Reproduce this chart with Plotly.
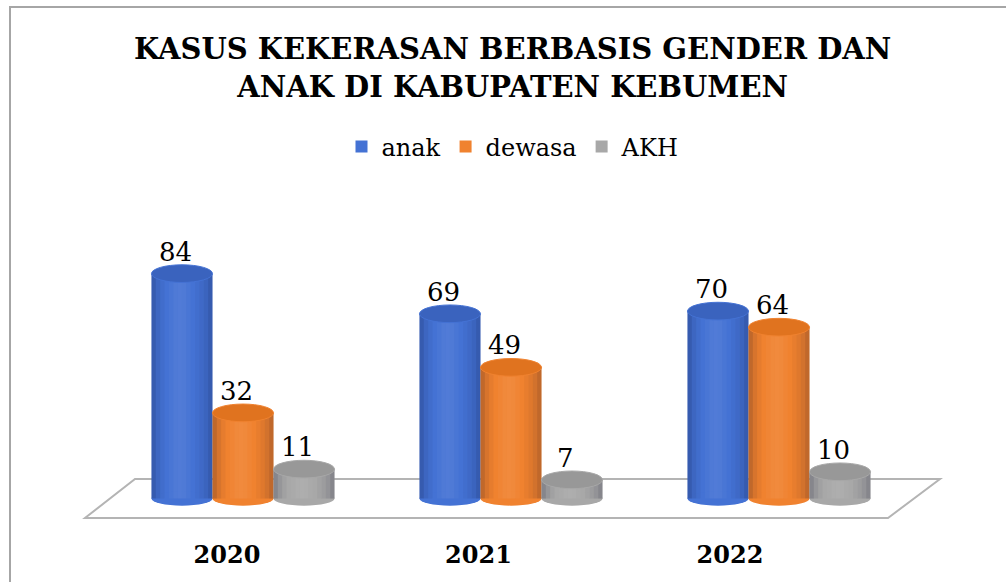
import plotly.graph_objects as go

# ---- data ----
years = ["2020", "2021", "2022"]
series_names = ["anak", "dewasa", "AKH"]
anak = [84, 69, 70]
dewasa = [32, 49, 64]
akh = [11, 7, 10]
colors = ["#4472D4", "#F0822F", "#A8A8A8"]
top_colors = ["#3A63BE", "#E0731F", "#989898"]

W, H = 1006, 582
L, R, T, B = 109, 93, 204, 62
PW, PH = W - L - R, H - T - B
YMIN, YMAX = -8, 110
BARGAP = 0.317

def px2paper(px, py):
    return (px - L) / PW, (H - B - py) / PH

fig = go.Figure()
values = [anak, dewasa, akh]
for name, vals, col in zip(series_names, values, colors):
    fig.add_trace(go.Bar(x=years, y=vals, name=name, marker=dict(color=col, line=dict(width=0)),
                         hoverinfo="x+y+name"))

# invisible trace for label axis
fig.add_trace(go.Scatter(x=[0, 1, 2], y=[0, 0, 0], xaxis="x2", mode="markers",
                         marker=dict(opacity=0), showlegend=False, hoverinfo="skip"))

bw = (1 - BARGAP) / 3
ell_h = 3.3  # half-height of ellipse in data units
# cylinder shading profile (positive = white overlay, negative = dark overlay)
shade = [-0.20, -0.10, -0.04, 0.0, 0.03, 0.06, 0.07, 0.06, 0.03, 0.0, -0.03, -0.07, -0.12, -0.20]
ns = len(shade)
shapes = []
annotations = []
# floor
fl = [px2paper(135, 479), px2paper(940, 479), px2paper(888, 518), px2paper(85, 518)]
path = "M {} {} L {} {} L {} {} L {} {} Z".format(*[c for p in fl for c in p])
shapes.append(dict(type="path", xref="paper", yref="paper", path=path, fillcolor="white",
                   line=dict(color="#B4B4B4", width=2), layer="below"))
for s, (vals, col, tcol) in enumerate(zip(values, colors, top_colors)):
    for i, v in enumerate(vals):
        cx = i + (s - 1) * bw
        x0 = cx - bw / 2
        # bottom ellipse
        shapes.append(dict(type="circle", xref="x", yref="y", x0=x0, x1=x0 + bw,
                           y0=-ell_h * 0.8, y1=ell_h * 0.8, fillcolor=col, line=dict(width=0)))
        for k, a in enumerate(shade):
            if a == 0:
                continue
            fc = "rgba(255,255,255,%.3f)" % a if a > 0 else "rgba(0,0,30,%.3f)" % (-a)
            shapes.append(dict(type="rect", xref="x", yref="y",
                               x0=x0 + bw * k / ns, x1=x0 + bw * (k + 1) / ns,
                               y0=0, y1=v, fillcolor=fc, line=dict(width=0)))
        # top ellipse
        shapes.append(dict(type="circle", xref="x", yref="y", x0=x0, x1=x0 + bw,
                           y0=v - ell_h, y1=v + ell_h, fillcolor=tcol,
                           line=dict(width=1, color=col)))
        annotations.append(dict(x=cx - 0.025, y=v, xref="x", yref="y", text=str(v), showarrow=False,
                                yanchor="bottom", yshift=5,
                                font=dict(family="DejaVu Serif", size=26, color="black")))

# border of chart area
bx0, by0 = px2paper(10, 600)
bx1, by1 = px2paper(1020, 7)
shapes.append(dict(type="rect", xref="paper", yref="paper", x0=bx0, y0=by0, x1=bx1, y1=by1,
                   line=dict(color="#A6A6A6", width=2), fillcolor="rgba(0,0,0,0)", layer="below"))

tx, ty = px2paper(512, 68)
annotations.append(dict(x=tx, y=ty, xref="paper", yref="paper", showarrow=False,
                        text="<b>KASUS KEKERASAN BERBASIS GENDER DAN<br>ANAK DI KABUPATEN KEBUMEN</b>",
                        xanchor="center", yanchor="middle",
                        font=dict(family="DejaVu Serif", size=29, color="black")))

lx, ly = px2paper(513, 147)
fig.update_layout(
    width=W, height=H,
    margin=dict(l=L, r=R, t=T, b=B),
    paper_bgcolor="white", plot_bgcolor="rgba(0,0,0,0)",
    barmode="group", bargap=BARGAP, bargroupgap=0,
    showlegend=True,
    legend=dict(orientation="h", x=lx, y=ly, xanchor="center", yanchor="middle",
                font=dict(family="DejaVu Serif", size=24, color="black"),
                itemwidth=30, traceorder="normal"),
    xaxis=dict(type="category", range=[-0.5, 2.5], showticklabels=False, showgrid=False,
               zeroline=False, showline=False, ticks=""),
    xaxis2=dict(overlaying="x", anchor="y", side="bottom", range=[-0.469, 2.728],
                tickvals=[0, 1, 2], ticktext=years, showgrid=False, zeroline=False,
                showline=False, ticks="", ticklabelstandoff=18,
                tickfont=dict(family="DejaVu Serif", size=24, color="black", weight="bold")),
    yaxis=dict(range=[YMIN, YMAX], visible=False),
    shapes=shapes, annotations=annotations,
)
fig.write_html("out.html", config={"displayModeBar": False},
               post_script="document.body.style.margin='0';document.body.style.overflow='hidden';")
